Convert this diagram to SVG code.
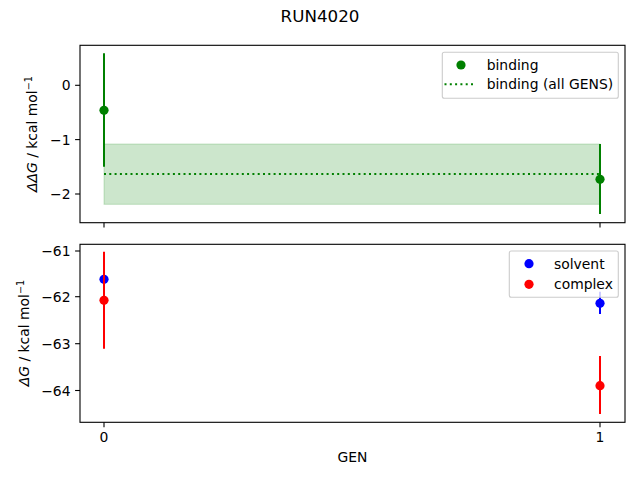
<svg xmlns="http://www.w3.org/2000/svg" width="640" height="480" viewBox="0 0 640 480">
<style>
text{font-family:"DejaVu Sans",sans-serif;fill:#000}
.tk{font-size:13.9px}
.tl{stroke:#000;stroke-width:1.1}
.sp{fill:none;stroke:#000;stroke-width:1.1}
.leg{fill:#fff;fill-opacity:0.8;stroke:#ccc;stroke-width:1.1}
</style>
<rect width="640" height="480" fill="#fff"/>
<text x="320" y="22" font-size="16.7" text-anchor="middle">RUN4020</text>
<!-- top axes -->
<g id="top-axes">
<rect x="104" y="144" width="496" height="60.3" fill="#008000" fill-opacity="0.2" stroke="#008000" stroke-opacity="0.2"/>
<line x1="104" y1="174" x2="600" y2="174" stroke="#008000" stroke-width="2" stroke-dasharray="2,3.3"/>
<g id="binding">
<line x1="104" y1="53.3" x2="104" y2="166.7" stroke="#008000" stroke-width="2"/>
<circle cx="104" cy="110.3" r="4.6" fill="#008000"/>
<line x1="600" y1="144" x2="600" y2="214" stroke="#008000" stroke-width="2"/>
<circle cx="600" cy="179.3" r="4.6" fill="#008000"/>
</g>
<rect class="sp" x="80" y="45.3" width="545" height="177.4"/>
<g class="tl">
<line x1="80" y1="85.3" x2="75.1" y2="85.3"/>
<line x1="80" y1="139.6" x2="75.1" y2="139.6"/>
<line x1="80" y1="194" x2="75.1" y2="194"/>
<line x1="104" y1="222.7" x2="104" y2="227.6"/>
<line x1="600" y1="222.7" x2="600" y2="227.6"/>
</g>
<g class="tk" text-anchor="end">
<text x="70.5" y="90.3">0</text>
<text x="70.5" y="144.6">−1</text>
<text x="70.5" y="199">−2</text>
</g>
<text transform="translate(37,134) rotate(-90)" font-size="13.9" text-anchor="middle"><tspan font-style="italic">ΔΔG</tspan> / kcal mol<tspan font-size="9.7" dy="-5">−1</tspan></text>
<g id="legend-top">
<rect class="leg" x="442.3" y="52.3" width="176" height="46" rx="2"/>
<circle cx="461" cy="65" r="4.6" fill="#008000"/>
<text class="tk" x="486.7" y="69.8">binding</text>
<line x1="444.5" y1="84.3" x2="474" y2="84.3" stroke="#008000" stroke-width="2" stroke-dasharray="2,3.3"/>
<text class="tk" x="486.7" y="89.3">binding (all GENS)</text>
</g>
</g>
<!-- bottom axes -->
<g id="bottom-axes">
<g id="solvent">
<line x1="104" y1="275.5" x2="104" y2="283" stroke="#0000ff" stroke-width="2"/>
<circle cx="104" cy="279.3" r="4.6" fill="#0000ff"/>
<line x1="600" y1="291.7" x2="600" y2="314" stroke="#0000ff" stroke-width="2"/>
<circle cx="600" cy="303.3" r="4.6" fill="#0000ff"/>
</g>
<g id="complex">
<line x1="104" y1="251.7" x2="104" y2="348.7" stroke="#ff0000" stroke-width="2"/>
<circle cx="104" cy="300.3" r="4.6" fill="#ff0000"/>
<line x1="600" y1="356" x2="600" y2="414" stroke="#ff0000" stroke-width="2"/>
<circle cx="600" cy="385.7" r="4.6" fill="#ff0000"/>
</g>
<rect class="sp" x="80" y="244.3" width="545" height="178"/>
<g class="tl">
<line x1="80" y1="251" x2="75.1" y2="251"/>
<line x1="80" y1="296.7" x2="75.1" y2="296.7"/>
<line x1="80" y1="343.7" x2="75.1" y2="343.7"/>
<line x1="80" y1="390.5" x2="75.1" y2="390.5"/>
<line x1="104" y1="422.3" x2="104" y2="427.2"/>
<line x1="600" y1="422.3" x2="600" y2="427.2"/>
</g>
<g class="tk" text-anchor="end">
<text x="70.5" y="256">−61</text>
<text x="70.5" y="301.7">−62</text>
<text x="70.5" y="348.7">−63</text>
<text x="70.5" y="395.5">−64</text>
</g>
<g class="tk" text-anchor="middle">
<text x="104" y="442">0</text>
<text x="600" y="442">1</text>
<text x="352.5" y="462">GEN</text>
</g>
<text transform="translate(29,333) rotate(-90)" font-size="13.9" text-anchor="middle"><tspan font-style="italic">ΔG</tspan> / kcal mol<tspan font-size="9.7" dy="-5">−1</tspan></text>
<g id="legend-bottom">
<rect class="leg" x="509.3" y="251" width="109" height="46.3" rx="2"/>
<circle cx="529" cy="263.7" r="4.6" fill="#0000ff"/>
<text class="tk" x="554" y="268.5">solvent</text>
<circle cx="529" cy="284.3" r="4.6" fill="#ff0000"/>
<text class="tk" x="554" y="289">complex</text>
</g>
</g>
</svg>
